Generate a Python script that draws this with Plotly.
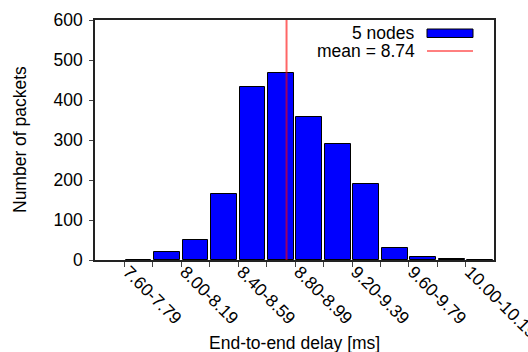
import plotly.graph_objects as go

# ---- data ----
bin_labels = ["7.60-7.79", "7.80-7.99", "8.00-8.19", "8.20-8.39", "8.40-8.59",
              "8.60-8.79", "8.80-8.99", "9.00-9.19", "9.20-9.39", "9.40-9.59",
              "9.60-9.79", "9.80-9.99", "10.00-10.19"]
bin_lower = [7.60, 7.80, 8.00, 8.20, 8.40, 8.60, 8.80, 9.00, 9.20, 9.40, 9.60, 9.80, 10.00]
counts = [1, 19, 50, 164, 432, 468, 357, 289, 190, 29, 7, 2, 1]
mean_value = 8.74
series_name = "5 nodes"
bin_width = 0.2

FONT = "Liberation Sans, Arial, Helvetica, sans-serif"
FS = 17.5

W, H = 528, 352
L, R, T, B = 95, 34, 20, 92
pw, ph = W - L - R, H - T - B


def px(xp):
    return (xp - L) / pw


def py(yp):
    return (H - B - yp) / ph


fig = go.Figure()
fig.add_trace(go.Bar(
    x=bin_lower, y=counts,
    width=bin_width * 0.9, offset=bin_width * 0.05,
    marker=dict(color="#0000ff", line=dict(color="black", width=1)),
    name=series_name, showlegend=False,
))

# mean line
fig.add_shape(type="line", xref="x", yref="paper", x0=mean_value, x1=mean_value,
              y0=0, y1=1, line=dict(color="rgba(255,0,0,0.6)", width=2))

# manual legend (gnuplot style: text right, key left)
fig.add_annotation(text=series_name, xref="paper", yref="paper", x=px(417), y=py(33),
                   xanchor="right", yanchor="middle", showarrow=False, height=18,
                   font=dict(family=FONT, size=FS, color="black"))
fig.add_annotation(text=f"mean = {mean_value:.2f}", xref="paper", yref="paper",
                   x=px(417), y=py(51), xanchor="right", yanchor="middle", height=18,
                   showarrow=False, font=dict(family=FONT, size=FS, color="black"))
fig.add_shape(type="rect", xref="paper", yref="paper",
              x0=px(427), x1=px(473), y0=py(37.5), y1=py(29),
              fillcolor="#0000ff", line=dict(color="black", width=1))
fig.add_shape(type="line", xref="paper", yref="paper",
              x0=px(427), x1=px(473), y0=py(51), y1=py(51),
              line=dict(color="red", width=1))

# axis titles
fig.add_annotation(text="End-to-end delay [ms]", xref="paper", yref="paper",
                   x=0.5, y=py(343), xanchor="center", yanchor="middle",
                   showarrow=False, font=dict(family=FONT, size=FS, color="black"))
fig.add_annotation(text="Number of packets", xref="paper", yref="paper",
                   x=px(20), y=0.5, xanchor="center", yanchor="middle", textangle=-90,
                   showarrow=False, font=dict(family=FONT, size=FS, color="black"))

ticktext = [lab if i % 2 == 0 else "" for i, lab in enumerate(bin_labels)]

fig.update_layout(
    width=W, height=H,
    margin=dict(l=L, r=R, t=T, b=B, autoexpand=False),
    paper_bgcolor="white", plot_bgcolor="white",
    font=dict(family=FONT, size=FS, color="black"),
    showlegend=False,
    bargap=0,
)
fig.update_xaxes(
    range=[7.395, 10.197], tickmode="array", tickvals=bin_lower, ticktext=ticktext,
    tickangle=45, ticks="outside", ticklen=5, tickcolor="#444", tickwidth=1,
    ticklabeloverflow="allow", ticklabelshift=4, ticklabelstandoff=-12,
    showline=True, linecolor="#222", linewidth=1.5, mirror=True,
    showgrid=False, zeroline=False, automargin=False,
    tickfont=dict(family=FONT, size=FS, color="black"),
)
fig.update_yaxes(
    range=[0, 600], dtick=100, ticks="outside", ticklen=4, tickcolor="#444",
    ticklabelstandoff=3,
    showline=True, linecolor="#222", linewidth=1.5, mirror=True,
    showgrid=False, zeroline=False, automargin=False,
    tickfont=dict(family=FONT, size=FS, color="black"),
)

fig.write_html("out.html")
